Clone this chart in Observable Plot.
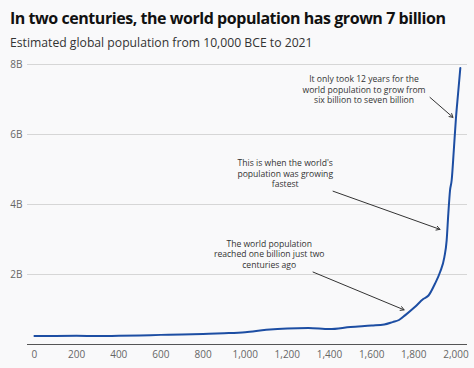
<!DOCTYPE html>
<html>
<head>
<meta charset="utf-8">
<script src="https://cdn.jsdelivr.net/npm/d3@7"></script>
<script src="https://cdn.jsdelivr.net/npm/@observablehq/plot@0.6"></script>
<style>
  html, body { margin: 0; padding: 0; background: #f9f9fa; }
  body { width: 474px; height: 368px; overflow: hidden; font-family: "Open Sans", sans-serif; }
  #title { position: absolute; left: 10px; top: 7px; font-size: 16px; font-weight: 700; color: #111; letter-spacing: -0.45px; white-space: nowrap; }
  #subtitle { position: absolute; left: 10px; top: 34px; font-size: 12.2px; color: #333; white-space: nowrap; }
  #chart { position: absolute; left: 0; top: 56px; }
</style>
</head>
<body>
<div id="title">In two centuries, the world population has grown 7 billion</div>
<div id="subtitle">Estimated global population from 10,000 BCE to 2021</div>
<div id="chart"></div>
<script>
const years = [0, 100, 200, 300, 400, 500, 600, 700, 800, 900, 1000, 1100, 1200, 1300, 1400, 1500, 1600, 1660, 1700, 1730, 1760, 1805, 1845, 1870, 1900, 1925, 1945, 1956, 1964, 1972, 1980, 1990, 2000, 2010, 2021];
const population = [0.24, 0.245, 0.25, 0.24, 0.25, 0.26, 0.275, 0.285, 0.30, 0.32, 0.35, 0.42, 0.46, 0.47, 0.44, 0.50, 0.54, 0.57, 0.64, 0.70, 0.84, 1.07, 1.30, 1.40, 1.73, 2.07, 2.49, 2.97, 3.74, 4.40, 4.70, 5.55, 6.45, 7.15, 7.90];
const yTicks = [2, 4, 6, 8];
const yTickLabels = ["2B", "4B", "6B", "8B"];
const xTicks = [0, 200, 400, 600, 800, 1000, 1200, 1400, 1600, 1800, 2000];

const noteTexts = [
  "It only took 12 years for the\nworld population to grow from\nsix billion to seven billion",
  "This is when the world's\npopulation was growing\nfastest",
  "The world population\nreached one billion just two\ncenturies ago"
];
const noteYears = [1564, 1190, 1114];
const noteValues = [7.29, 4.89, 2.59];
const arrowFromYears = [1877, 1417, 1322];
const arrowFromValues = [7.06, 4.38, 2.07];
const arrowToYears = [1986, 1924, 1754];
const arrowToValues = [6.49, 3.29, 0.99];

const data = years.map((y, i) => ({year: y, pop: population[i]}));
const notes = noteTexts.map((t, i) => ({text: t, x: noteYears[i], y: noteValues[i]}));
const arrows = arrowFromYears.map((x, i) => ({x1: x, y1: arrowFromValues[i], x2: arrowToYears[i], y2: arrowToValues[i]}));

const chart = Plot.plot({
  width: 474,
  height: 312,
  marginTop: 8,
  marginBottom: 24,
  marginLeft: 27,
  marginRight: 7,
  style: {background: "#f9f9fa", fontFamily: "Open Sans, sans-serif", color: "#666"},
  x: {domain: [-33, 2055]},
  y: {domain: [0, 8]},
  marks: [
    Plot.gridY(yTicks, {stroke: "#d6d6d6", strokeOpacity: 1}),
    Plot.axisY(yTicks, {tickSize: 0, tickPadding: 5, fontSize: 10, fill: "#666", tickFormat: (d) => yTickLabels[yTicks.indexOf(d)], label: null}),
    Plot.axisX(xTicks, {tickSize: 0, tickPadding: 6, fontSize: 10, fill: "#666", tickFormat: d3.format(","), label: null}),
    Plot.ruleY([0], {stroke: "#555", strokeWidth: 1}),
    Plot.line(data, {x: "year", y: "pop", stroke: "#1d4ea3", strokeWidth: 2, curve: "monotone-x"}),
    Plot.text(notes, {x: "x", y: "y", text: "text", fontSize: 8.6, fill: "#333", lineHeight: 1.22, textAnchor: "middle"}),
    Plot.arrow(arrows, {x1: "x1", y1: "y1", x2: "x2", y2: "y2", stroke: "#333", strokeWidth: 1, headLength: 6, bend: 0})
  ]
});
document.getElementById("chart").appendChild(chart);
</script>
</body>
</html>
